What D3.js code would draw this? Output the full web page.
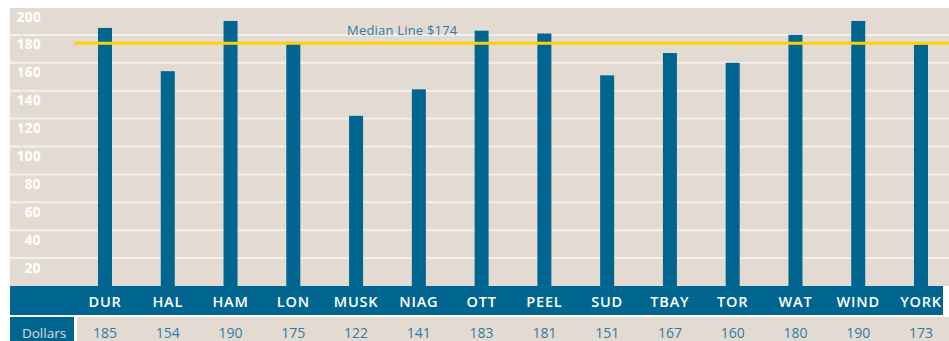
<!DOCTYPE html>
<html>
<head>
<meta charset="utf-8">
<script src="https://cdn.jsdelivr.net/npm/d3@7/dist/d3.min.js"></script>
<style>
  html, body { margin: 0; padding: 0; background: #ffffff; }
  svg { display: block; }
  text { font-family: "Open Sans", "DejaVu Sans", sans-serif; }
</style>
</head>
<body>
<svg id="chart" width="949" height="341"></svg>
<script>
// Regional costs in dollars
const regions = ["DUR", "HAL", "HAM", "LON", "MUSK", "NIAG", "OTT", "PEEL", "SUD", "TBAY", "TOR", "WAT", "WIND", "YORK"];
const dollars = [185, 154, 190, 175, 122, 141, 183, 181, 151, 167, 160, 180, 190, 173];
const median = 174;
const yTicks = [20, 40, 60, 80, 100, 120, 140, 160, 180, 200];
const rowLabel = "Dollars";
const medianLabel = "Median Line $174";

const W = 949, H = 341;
const left = 10, plotTop = 7, plotBottom = 286;
const bandBottom = 315, rowTop = 317;

const beige = "#e3dbd2", blue = "#00668f", yellow = "#ffd100", grid = "#f4f0eb";

const svg = d3.select("#chart");

const x = d3.scalePoint().domain(regions).range([105, 921]);
const y = d3.scaleLinear().domain([0, 200]).range([plotBottom, plotTop]);

// plot background
svg.append("rect").attr("x", left).attr("y", y(200) + 1)
  .attr("width", W - left).attr("height", plotBottom - y(200) - 1)
  .attr("fill", beige);

// gridlines
svg.append("g").selectAll("line").data(yTicks.filter(d => d < 200)).join("line")
  .attr("x1", left).attr("x2", W)
  .attr("y1", d => y(d)).attr("y2", d => y(d))
  .attr("stroke", grid).attr("stroke-width", 2);

// y tick labels sit just below their gridline
svg.append("g").selectAll("text").data(yTicks).join("text")
  .attr("x", 41).attr("y", d => y(d) + 14.5)
  .attr("text-anchor", "end")
  .attr("fill", "#ffffff").attr("font-weight", 700).attr("font-size", 13.5)
  .attr("letter-spacing", 0.4)
  .text(d => d);

// bars
const barW = 14;
svg.append("g").selectAll("rect").data(dollars).join("rect")
  .attr("x", (d, i) => x(regions[i]) - barW / 2)
  .attr("y", d => y(d))
  .attr("width", barW)
  .attr("height", d => plotBottom - y(d))
  .attr("fill", blue);

// median line
svg.append("line")
  .attr("x1", 74).attr("x2", W)
  .attr("y1", y(median)).attr("y2", y(median))
  .attr("stroke", yellow).attr("stroke-width", 3);
svg.append("text").attr("x", 347).attr("y", 35)
  .attr("fill", "#2f7ca2").attr("font-size", 13)
  .attr("letter-spacing", 0.2)
  .text(medianLabel);

// category band
svg.append("rect").attr("x", left).attr("y", plotBottom)
  .attr("width", 943 - left).attr("height", bandBottom - plotBottom)
  .attr("fill", blue);
svg.append("g").selectAll("text").data(regions).join("text")
  .attr("x", d => x(d)).attr("y", 307)
  .attr("text-anchor", "middle")
  .attr("fill", "#ffffff").attr("font-weight", 600).attr("font-size", 14.5)
  .attr("letter-spacing", 0.8)
  .text(d => d);

// values row
svg.append("rect").attr("x", left).attr("y", rowTop)
  .attr("width", 74 - left).attr("height", H - rowTop).attr("fill", blue);
svg.append("rect").attr("x", 77).attr("y", rowTop)
  .attr("width", W - 77).attr("height", H - rowTop).attr("fill", beige);
svg.append("text").attr("x", 44).attr("y", 338)
  .attr("text-anchor", "middle").attr("fill", "#e3dbd2").attr("font-size", 13.5)
  .text(rowLabel);
svg.append("g").selectAll("text").data(dollars).join("text")
  .attr("x", (d, i) => x(regions[i])).attr("y", 338)
  .attr("text-anchor", "middle")
  .attr("fill", "#2f7ca2").attr("font-size", 14)
  .text(d => d);
</script>
</body>
</html>
